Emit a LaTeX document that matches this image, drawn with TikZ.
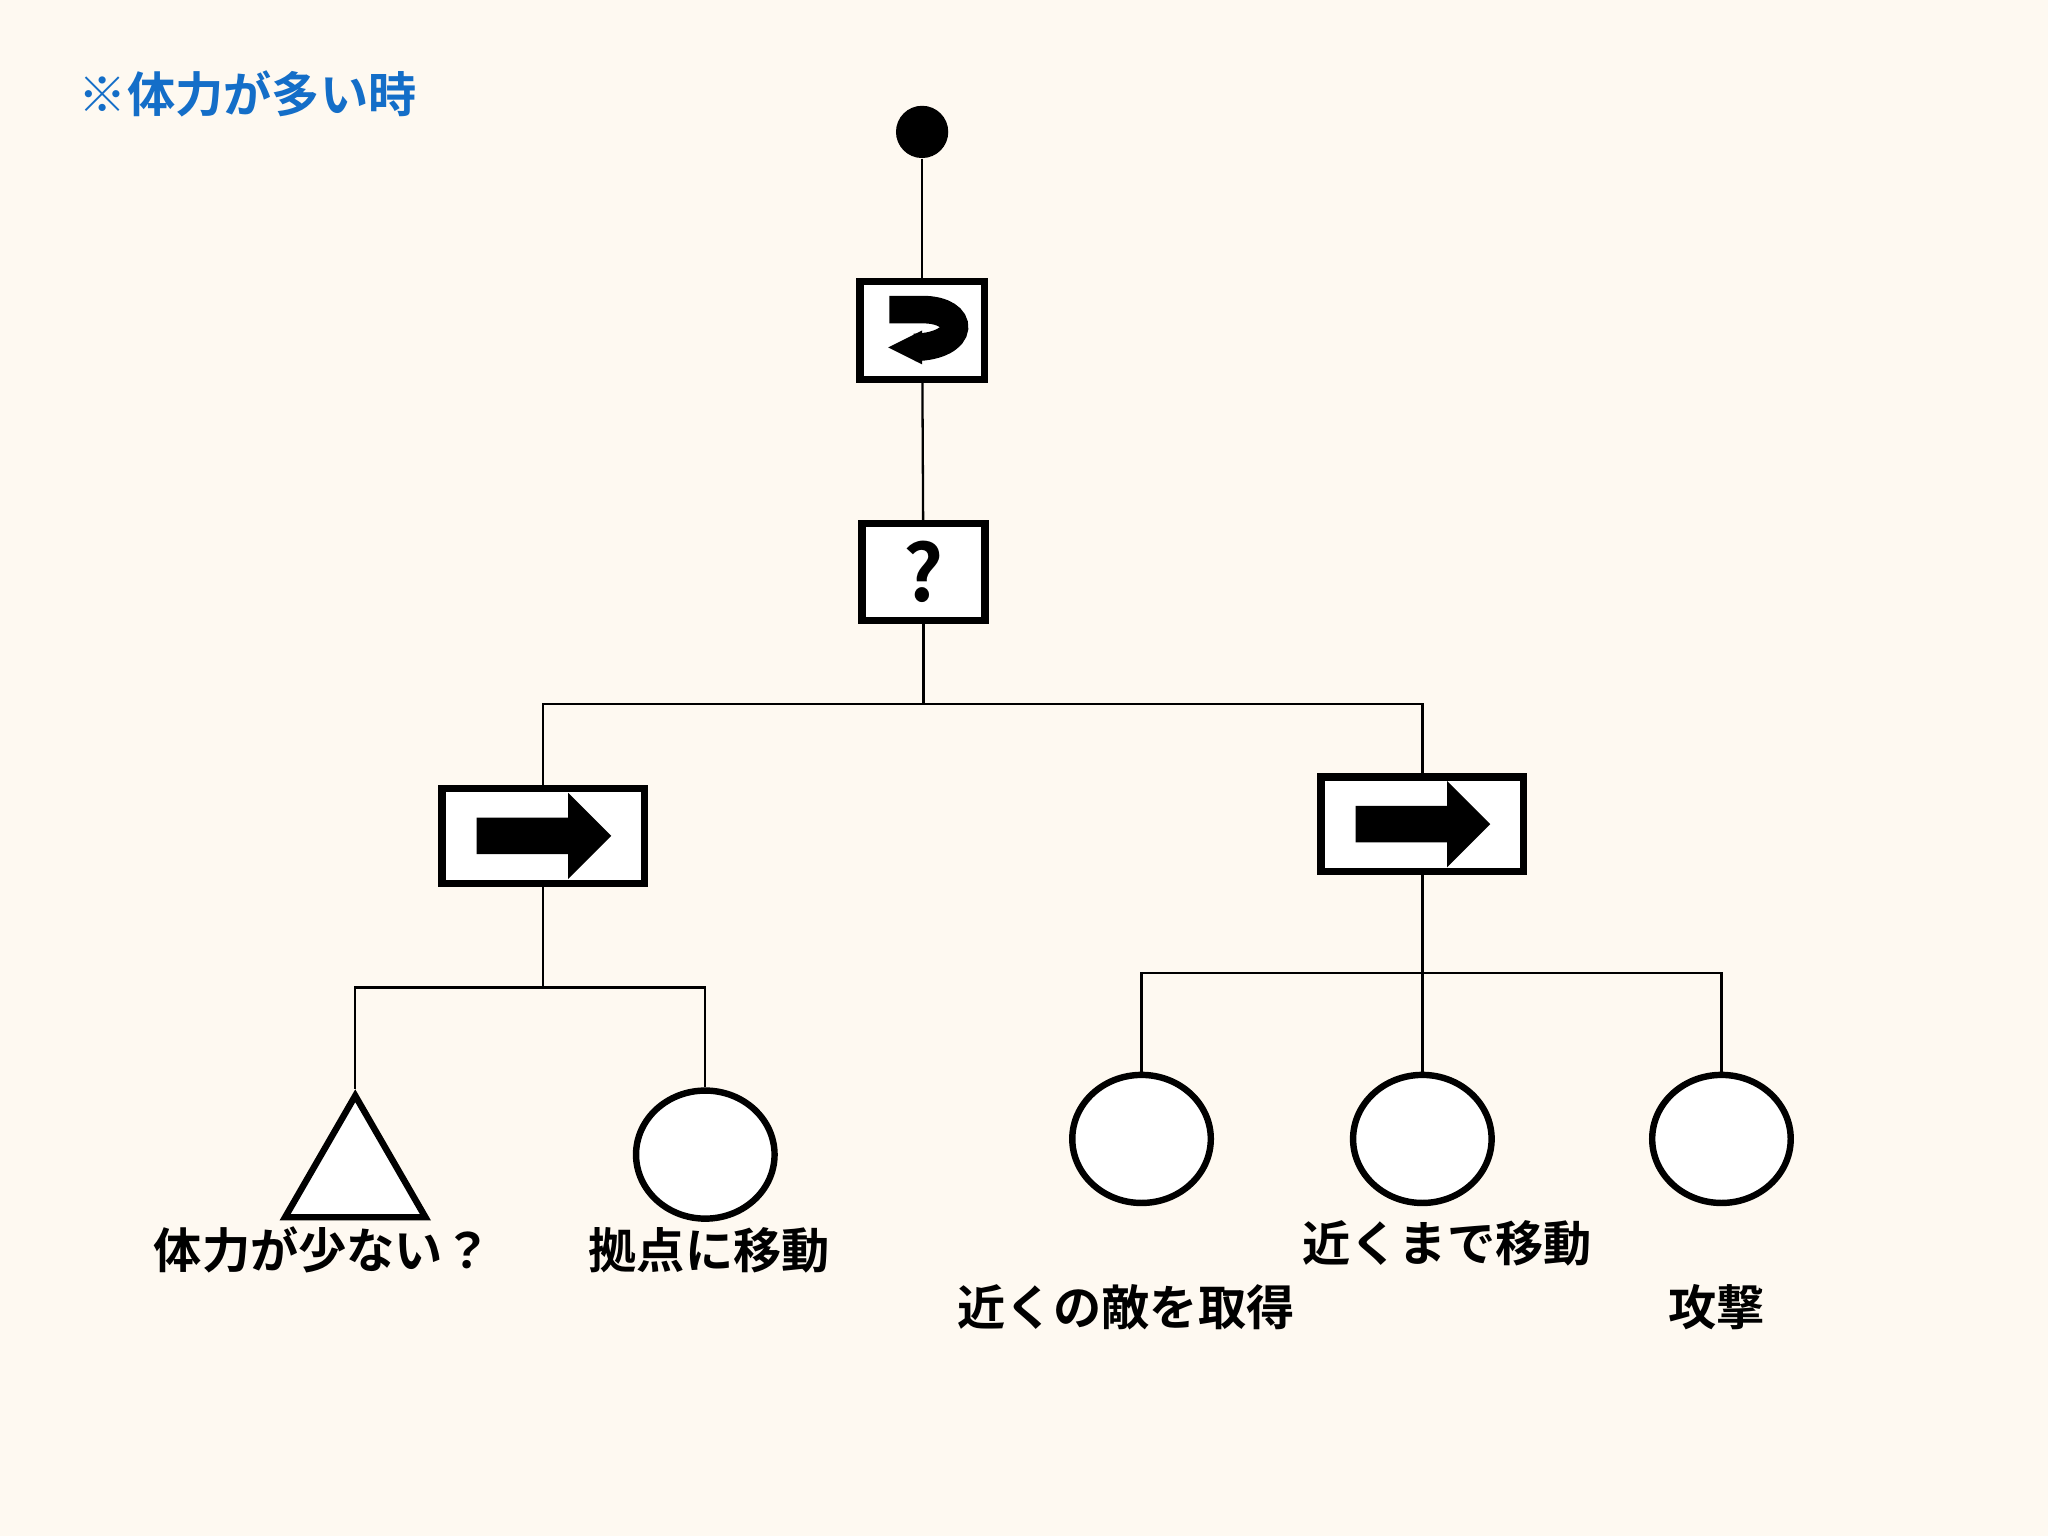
\documentclass[tikz,border=0pt]{standalone}
\usepackage{fontspec}
\setmainfont{Noto Sans CJK JP}[BoldFont={Noto Sans CJK JP Bold}]
\usetikzlibrary{shapes.geometric}
\begin{document}
\begin{tikzpicture}[x=0.01cm,y=-0.01cm,
  leaf/.style={draw,line width=1.4pt,fill=white,ellipse,minimum width=1.06cm,minimum height=0.98cm},
  lbl/.style={font=\bfseries\fontsize{10.5pt}{12pt}\selectfont},
  edge/.style={line width=0.5pt}]
\fill[fill={rgb,255:red,254;green,249;blue,241}] (0,0) rectangle (1568,1176);
\useasboundingbox (0,0) rectangle (1568,1176);
\node[anchor=west,text={rgb,255:red,20;green,110;blue,200},font=\bfseries\fontsize{10.5pt}{12pt}\selectfont] (title) at (48,72) {※体力が多い時};
\node[circle,fill=black,minimum size=0.4cm,inner sep=0] (root) at (706,101) {};
% repeat box
\node[draw,line width=1.6pt,fill=white,minimum width=0.95cm,minimum height=0.75cm] (rep) at (706,253) {};
\draw[line width=6pt] (681,237) -- (706,237) .. controls (740,237) and (740,265) .. (700,266);
\fill (706,253) -- (680,266) -- (706,279) -- cycle;
% selector
\node[draw,line width=1.6pt,fill=white,minimum width=0.94cm,minimum height=0.74cm,font=\bfseries\fontsize{17pt}{18pt}\selectfont] (sel) at (707,438) {?};
% sequences
\node[draw,line width=1.6pt,fill=white,minimum width=1.55cm,minimum height=0.73cm] (seqL) at (416,640) {};
\node[draw,line width=1.6pt,fill=white,minimum width=1.55cm,minimum height=0.72cm] (seqR) at (1089,631) {};
\foreach \n in {seqL,seqR}{
  \fill ([xshift=-0.51cm,yshift=0.14cm]\n.center) -- ([xshift=0.19cm,yshift=0.14cm]\n.center) -- ([xshift=0.19cm,yshift=0.33cm]\n.center) -- ([xshift=0.52cm]\n.center) -- ([xshift=0.19cm,yshift=-0.33cm]\n.center) -- ([xshift=0.19cm,yshift=-0.14cm]\n.center) -- ([xshift=-0.51cm,yshift=-0.14cm]\n.center) -- cycle;
}
% leaves
\node[draw,line width=1.4pt,fill=white,regular polygon,regular polygon sides=3,minimum size=1.24cm,inner sep=0,anchor=north] (cond) at (272,834) {};
\node[leaf] (mv) at (540,884) {};
\node[leaf] (get) at (874,872) {};
\node[leaf] (near) at (1089,872) {};
\node[leaf] (atk) at (1318,872) {};
% edges
\draw[edge] (root) -- (rep);
\draw[edge] (rep) -- (sel);
\draw[edge] (sel.south) -- (707,539) -| (seqL.north);
\draw[edge] (707,539) -| (seqR.north);
\draw[edge] (seqL.south) -- (416,756) -| (cond.north);
\draw[edge] (416,756) -| (mv.north);
\draw[edge] (seqR.south) -- (1089,745) -| (get.north);
\draw[edge] (1089,745) -- (near.north);
\draw[edge] (1089,745) -| (atk.north);
% labels
\node[lbl] (l1) at (247,957) {体力が少ない？};
\node[lbl] (l2) at (543,957) {拠点に移動};
\node[lbl] (l3) at (862,1001) {近くの敵を取得};
\node[lbl] (l4) at (1108,952) {近くまで移動};
\node[lbl] (l5) at (1314,1001) {攻撃};
\end{tikzpicture}
\end{document}
